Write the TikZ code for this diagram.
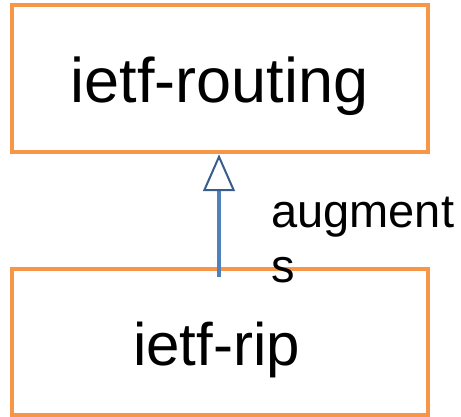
\documentclass[tikz,border=0pt]{standalone}
\usepackage{fontspec}
\setmainfont{Liberation Sans}
\usetikzlibrary{arrows.meta}
\definecolor{boxorange}{HTML}{F79646}
\definecolor{linkblue}{HTML}{4F81BD}
\definecolor{tipblue}{HTML}{385D8A}
\begin{document}
\begin{tikzpicture}[x=1pt,y=-1pt,
  modbox/.style={draw=boxorange, line width=4.5pt, fill=white, minimum width=416pt, inner sep=0pt},
  modtext/.style={anchor=base, inner sep=0pt},
  link/.style={draw=linkblue, line width=4pt,
    -{Triangle[open, length=37pt, width=32pt, line width=2pt, color=tipblue, fill=white]}},
  lbl/.style={anchor=base west, inner sep=0pt, align=left, font=\fontsize{47}{55}\selectfont}]
\useasboundingbox (0,0) rectangle (461,417);
\node[modbox, minimum height=147pt] (top) at (220,78.5) {};
\node[modbox, minimum height=146pt] (bot) at (220,342) {};
\node[modtext, font=\fontsize{63}{75}\selectfont] (toptext) at (219.5,103) {ietf-routing};
\node[modtext, font=\fontsize{60}{72}\selectfont] (bottext) at (216.5,365) {ietf-rip};
\coordinate (start) at (219,277);
\draw[link] (start) -- (start |- top.south);
\node[lbl] (aug) at (271,283) {augment\\s};
\end{tikzpicture}
\end{document}
